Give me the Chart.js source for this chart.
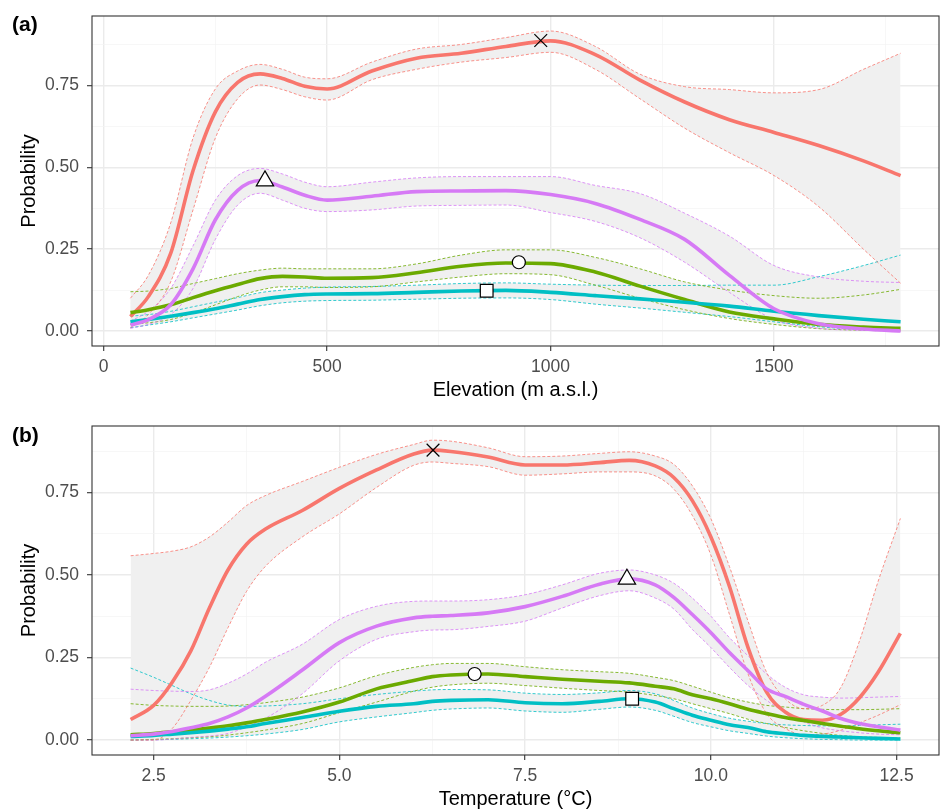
<!DOCTYPE html>
<html>
<head>
<meta charset="utf-8">
<script src="https://cdn.jsdelivr.net/npm/chart.js@4.4.1/dist/chart.umd.min.js"></script>
<style>
  body { margin: 0; background: #fff; }
  #wrap { position: relative; width: 940px; height: 811px; }
  canvas { position: absolute; left: 0; }
  #chartA { top: 0; }
  #chartB { top: 404px; }
  .tag { position: absolute; left: 12px; font: bold 21px "Liberation Sans", Arial, sans-serif; line-height: 24px; color: #000; }
</style>
</head>
<body>
<div id="wrap">
  <canvas id="chartA" width="940" height="402"></canvas>
  <canvas id="chartB" width="940" height="407"></canvas>
  <div class="tag" style="top:12px">(a)</div>
  <div class="tag" style="top:423px">(b)</div>
</div>
<script>
// ---- panel (a): elevation ----
const elevX = [60, 100, 150, 200, 250, 300, 350, 400, 450, 500, 600, 700, 800, 900, 1000, 1100, 1200, 1300, 1400, 1500, 1600, 1700, 1783];
const elevRedFit = [0.044, 0.105, 0.237, 0.49, 0.67, 0.76, 0.786, 0.772, 0.748, 0.740, 0.795, 0.834, 0.849, 0.870, 0.887, 0.845, 0.767, 0.700, 0.646, 0.607, 0.567, 0.520, 0.475];
const elevRedLo = [0.01, 0.05, 0.15, 0.37, 0.59, 0.71, 0.752, 0.738, 0.716, 0.706, 0.768, 0.80, 0.822, 0.836, 0.852, 0.80, 0.71, 0.62, 0.545, 0.475, 0.38, 0.25, 0.146];
const elevRedHi = [0.10, 0.17, 0.33, 0.59, 0.74, 0.795, 0.815, 0.80, 0.776, 0.771, 0.822, 0.862, 0.876, 0.897, 0.917, 0.87, 0.785, 0.747, 0.738, 0.728, 0.738, 0.80, 0.849];
const elevPinkFit = [0.018, 0.035, 0.08, 0.19, 0.34, 0.43, 0.46, 0.44, 0.415, 0.40, 0.412, 0.426, 0.428, 0.429, 0.417, 0.39, 0.341, 0.28, 0.17, 0.068, 0.022, 0.006, 0.0];
const elevPinkLo = [0.008, 0.02, 0.05, 0.13, 0.28, 0.385, 0.421, 0.40, 0.375, 0.365, 0.37, 0.382, 0.384, 0.385, 0.362, 0.335, 0.285, 0.21, 0.118, 0.035, 0.008, 0.002, 0.0];
const elevPinkHi = [0.03, 0.06, 0.13, 0.26, 0.40, 0.475, 0.497, 0.48, 0.455, 0.441, 0.455, 0.468, 0.472, 0.472, 0.472, 0.445, 0.42, 0.36, 0.29, 0.20, 0.165, 0.152, 0.148];
const elevGreenFit = [0.056, 0.065, 0.08, 0.102, 0.123, 0.142, 0.16, 0.167, 0.165, 0.161, 0.163, 0.178, 0.198, 0.208, 0.206, 0.18, 0.137, 0.096, 0.058, 0.037, 0.02, 0.012, 0.008];
const elevGreenLo = [0.02, 0.025, 0.035, 0.055, 0.08, 0.105, 0.125, 0.135, 0.135, 0.133, 0.135, 0.15, 0.165, 0.175, 0.172, 0.14, 0.10, 0.065, 0.038, 0.02, 0.007, 0.002, 0.0];
const elevGreenHi = [0.12, 0.122, 0.13, 0.145, 0.16, 0.175, 0.186, 0.192, 0.19, 0.19, 0.19, 0.205, 0.232, 0.248, 0.248, 0.225, 0.19, 0.15, 0.125, 0.108, 0.10, 0.11, 0.127];
const elevCyanFit = [0.028, 0.035, 0.045, 0.056, 0.068, 0.082, 0.096, 0.105, 0.111, 0.113, 0.114, 0.118, 0.122, 0.124, 0.118, 0.108, 0.098, 0.088, 0.076, 0.06, 0.047, 0.036, 0.028];
const elevCyanLo = [0.01, 0.018, 0.028, 0.04, 0.052, 0.064, 0.077, 0.086, 0.091, 0.093, 0.094, 0.097, 0.1, 0.101, 0.096, 0.082, 0.07, 0.057, 0.044, 0.028, 0.013, 0.004, 0.0];
const elevCyanHi = [0.045, 0.05, 0.06, 0.074, 0.088, 0.102, 0.117, 0.125, 0.131, 0.134, 0.136, 0.14, 0.145, 0.147, 0.143, 0.14, 0.139, 0.139, 0.14, 0.14, 0.166, 0.2, 0.232];
const elevMarkX = [978, 361, 929, 857];          // red, pink, green, cyan
const elevMarkY = [0.888, 0.459, 0.21, 0.123];
const elevTicks = [0, 250, 500, 750, 1000, 1250, 1500, 1750];
const elevTickLabels = ['0', '', '500', '', '1000', '', '1500', ''];

// ---- panel (b): temperature ----
const tempX = [2.19, 2.5, 2.75, 3.0, 3.25, 3.5, 3.75, 4.0, 4.5, 5.0, 5.5, 6.0, 6.25, 6.5, 7.0, 7.5, 8.0, 8.5, 8.9, 9.25, 9.5, 9.75, 10.0, 10.25, 10.5, 10.75, 11.0, 11.25, 11.5, 11.75, 12.0, 12.25, 12.55];
const tempRedFit = [0.062, 0.105, 0.175, 0.27, 0.40, 0.515, 0.593, 0.638, 0.695, 0.762, 0.818, 0.866, 0.878, 0.874, 0.857, 0.833, 0.833, 0.84, 0.847, 0.83, 0.795, 0.725, 0.615, 0.465, 0.28, 0.145, 0.085, 0.062, 0.06, 0.078, 0.128, 0.205, 0.323];
const tempRedLo = [0.0, 0.0, 0.035, 0.12, 0.22, 0.34, 0.45, 0.525, 0.615, 0.685, 0.765, 0.832, 0.842, 0.838, 0.828, 0.802, 0.806, 0.812, 0.812, 0.80, 0.76, 0.68, 0.56, 0.38, 0.2, 0.08, 0.035, 0.016, 0.018, 0.03, 0.052, 0.075, 0.107];
const tempRedHi = [0.558, 0.565, 0.572, 0.585, 0.615, 0.66, 0.71, 0.74, 0.783, 0.826, 0.865, 0.895, 0.908, 0.905, 0.885, 0.858, 0.86, 0.868, 0.873, 0.86, 0.835, 0.77, 0.67, 0.525, 0.36, 0.205, 0.125, 0.095, 0.105, 0.16, 0.30, 0.48, 0.671];
const tempPinkFit = [0.013, 0.018, 0.026, 0.037, 0.05, 0.07, 0.097, 0.132, 0.212, 0.295, 0.345, 0.37, 0.375, 0.377, 0.385, 0.404, 0.435, 0.472, 0.488, 0.47, 0.432, 0.38, 0.325, 0.265, 0.21, 0.155, 0.132, 0.108, 0.088, 0.065, 0.05, 0.04, 0.03];
const tempPinkLo = [0.0, 0.0, 0.003, 0.008, 0.012, 0.02, 0.04, 0.065, 0.14, 0.24, 0.305, 0.328, 0.333, 0.334, 0.344, 0.36, 0.4, 0.437, 0.452, 0.43, 0.397, 0.335, 0.28, 0.22, 0.165, 0.12, 0.085, 0.055, 0.037, 0.028, 0.022, 0.018, 0.016];
const tempPinkHi = [0.154, 0.15, 0.148, 0.147, 0.152, 0.172, 0.2, 0.235, 0.29, 0.365, 0.405, 0.42, 0.421, 0.421, 0.425, 0.44, 0.47, 0.505, 0.515, 0.5, 0.475, 0.43, 0.375, 0.31, 0.255, 0.2, 0.16, 0.137, 0.13, 0.127, 0.128, 0.13, 0.132];
const tempGreenFit = [0.016, 0.02, 0.025, 0.03, 0.036, 0.043, 0.052, 0.062, 0.085, 0.115, 0.155, 0.18, 0.192, 0.197, 0.2, 0.192, 0.184, 0.178, 0.173, 0.163, 0.155, 0.137, 0.125, 0.11, 0.093, 0.08, 0.068, 0.059, 0.05, 0.042, 0.034, 0.028, 0.022];
const tempGreenLo = [0.0, 0.002, 0.004, 0.007, 0.01, 0.015, 0.022, 0.03, 0.05, 0.083, 0.115, 0.148, 0.16, 0.167, 0.172, 0.165, 0.157, 0.15, 0.145, 0.135, 0.125, 0.11, 0.095, 0.08, 0.063, 0.05, 0.038, 0.028, 0.02, 0.014, 0.01, 0.008, 0.006];
const tempGreenHi = [0.11, 0.105, 0.103, 0.102, 0.102, 0.103, 0.107, 0.113, 0.13, 0.158, 0.195, 0.22, 0.228, 0.232, 0.232, 0.222, 0.213, 0.207, 0.202, 0.19, 0.18, 0.163, 0.145, 0.128, 0.115, 0.105, 0.1, 0.095, 0.093, 0.092, 0.092, 0.093, 0.095];
const tempCyanFit = [0.011, 0.014, 0.018, 0.022, 0.027, 0.033, 0.04, 0.05, 0.068, 0.087, 0.102, 0.11, 0.117, 0.12, 0.122, 0.113, 0.11, 0.117, 0.125, 0.115, 0.095, 0.075, 0.06, 0.046, 0.038, 0.025, 0.019, 0.014, 0.011, 0.009, 0.007, 0.005, 0.003];
const tempCyanLo = [0.0, 0.001, 0.002, 0.004, 0.006, 0.009, 0.013, 0.018, 0.032, 0.055, 0.07, 0.083, 0.09, 0.094, 0.097, 0.088, 0.084, 0.093, 0.1, 0.09, 0.072, 0.053, 0.04, 0.028, 0.02, 0.012, 0.007, 0.004, 0.002, 0.001, 0.0, 0.0, 0.0];
const tempCyanHi = [0.218, 0.19, 0.165, 0.14, 0.12, 0.106, 0.102, 0.103, 0.11, 0.125, 0.138, 0.148, 0.152, 0.153, 0.152, 0.142, 0.138, 0.143, 0.15, 0.14, 0.12, 0.097, 0.08, 0.066, 0.057, 0.05, 0.046, 0.044, 0.043, 0.043, 0.044, 0.046, 0.048];
const tempMarkX = [6.26, 8.87, 6.82, 8.94];
const tempMarkY = [0.878, 0.487, 0.2, 0.125];
const tempTicks = [2.5, 3.75, 5.0, 6.25, 7.5, 8.75, 10.0, 11.25, 12.5];
const tempTickLabels = ['2.5', '', '5.0', '', '7.5', '', '10.0', '', '12.5'];

const probTicks = [0, 0.125, 0.25, 0.375, 0.5, 0.625, 0.75, 0.875];
const probTickLabels = ['0.00', '', '0.25', '', '0.50', '', '0.75', ''];

const colRed = '#F8766D', colGreen = '#6BAA00', colCyan = '#00BFC4', colPink = '#D67AF5';
const markStyles = ['crossRot', 'triangle', 'circle', 'rect'];
const markSizes = [9, 10, 6.5, 9];

Chart.defaults.font.family = '"Liberation Sans", Arial, sans-serif';

function pts(xs, ys) {
    return xs.map((x, i) => ({ x: x, y: ys[i] }));
}

function band(xs, lo, hi, color) {
    return [
        { data: pts(xs, lo), borderColor: color, borderWidth: 0.8, borderDash: [3, 2], fill: false, order: 6 },
        { data: pts(xs, hi), borderColor: color, borderWidth: 0.8, borderDash: [3, 2], fill: '-1', backgroundColor: '#F0F0F0', order: 6 }
    ];
}

function fitLine(xs, ys, color, order) {
    return { data: pts(xs, ys), borderColor: color, borderWidth: 3.6, fill: false, order: order };
}

function markers(mx, my) {
    return mx.map((x, i) => ({
        data: [{ x: x, y: my[i] }],
        showLine: false,
        pointStyle: markStyles[i],
        pointRadius: markSizes[i],
        pointBorderColor: '#000',
        pointBorderWidth: 1.2,
        pointBackgroundColor: '#fff',
        order: 0
    }));
}

// ggplot-like panel border
const panelBorder = {
    id: 'panelBorder',
    afterDatasetsDraw(chart) {
        const a = chart.chartArea, c = chart.ctx;
        c.save();
        c.strokeStyle = '#333333';
        c.lineWidth = 1.1;
        c.strokeRect(a.left, a.top, a.right - a.left, a.bottom - a.top);
        c.restore();
    }
};

function axis(ticks, labels, min, max, title, isY) {
    return {
        type: 'linear',
        min: min,
        max: max,
        afterBuildTicks: s => { s.ticks = ticks.map(v => ({ value: v })); },
        afterFit: s => {
            if (isY) s.width = 92; else s.height = 56;
            s.paddingLeft = 0; s.paddingRight = 0; s.paddingTop = 0; s.paddingBottom = 0;
        },
        ticks: {
            autoSkip: false,
            maxRotation: 0,
            padding: isY ? 8 : 6,
            color: '#4D4D4D',
            font: { size: 17.5 },
            callback: (v, i) => labels[i]
        },
        grid: {
            color: c => labels[c.index] ? '#EBEBEB' : '#F3F3F3',
            lineWidth: c => labels[c.index] ? 1.4 : 0.7,
            tickColor: c => labels[c.index] ? '#333333' : 'rgba(0,0,0,0)',
            tickLength: 5,
            tickWidth: 1.1
        },
        border: { display: false },
        title: {
            display: true,
            text: title,
            color: '#000',
            font: { size: 20 },
            padding: isY ? { top: 17, bottom: 0 } : { top: 0, bottom: 0 }
        }
    };
}

function makePanel(id, cfg) {
    const datasets = [].concat(
        band(cfg.x, cfg.redLo, cfg.redHi, colRed),
        band(cfg.x, cfg.pinkLo, cfg.pinkHi, colPink),
        band(cfg.x, cfg.greenLo, cfg.greenHi, colGreen),
        band(cfg.x, cfg.cyanLo, cfg.cyanHi, colCyan),
        [fitLine(cfg.x, cfg.redFit, colRed, 5),
         fitLine(cfg.x, cfg.greenFit, colGreen, 4),
         fitLine(cfg.x, cfg.cyanFit, colCyan, 3),
         fitLine(cfg.x, cfg.pinkFit, colPink, 2)],
        markers(cfg.markX, cfg.markY)
    );
    new Chart(document.getElementById(id), {
        type: 'line',
        data: { datasets: datasets },
        options: {
            responsive: false,
            animation: false,
            devicePixelRatio: 1,
            layout: { autoPadding: false, padding: { left: 0, right: 1, top: cfg.padTop, bottom: 0 } },
            elements: {
                point: { radius: 0 },
                line: { cubicInterpolationMode: 'monotone' }
            },
            plugins: {
                legend: { display: false },
                tooltip: { enabled: false },
                filler: { drawTime: 'beforeDatasetsDraw' }
            },
            scales: {
                x: axis(cfg.ticks, cfg.tickLabels, cfg.xMin, cfg.xMax, cfg.xTitle, false),
                y: axis(probTicks, probTickLabels, cfg.yMin, cfg.yMax, 'Probability', true)
            }
        },
        plugins: [panelBorder]
    });
}

makePanel('chartA', {
    x: elevX,
    redFit: elevRedFit, redLo: elevRedLo, redHi: elevRedHi,
    pinkFit: elevPinkFit, pinkLo: elevPinkLo, pinkHi: elevPinkHi,
    greenFit: elevGreenFit, greenLo: elevGreenLo, greenHi: elevGreenHi,
    cyanFit: elevCyanFit, cyanLo: elevCyanLo, cyanHi: elevCyanHi,
    markX: elevMarkX, markY: elevMarkY,
    ticks: elevTicks, tickLabels: elevTickLabels,
    xMin: -26, xMax: 1869, yMin: -0.046, yMax: 0.963,
    xTitle: 'Elevation (m a.s.l.)', padTop: 16
});

makePanel('chartB', {
    x: tempX,
    redFit: tempRedFit, redLo: tempRedLo, redHi: tempRedHi,
    pinkFit: tempPinkFit, pinkLo: tempPinkLo, pinkHi: tempPinkHi,
    greenFit: tempGreenFit, greenLo: tempGreenLo, greenHi: tempGreenHi,
    cyanFit: tempCyanFit, cyanLo: tempCyanLo, cyanHi: tempCyanHi,
    markX: tempMarkX, markY: tempMarkY,
    ticks: tempTicks, tickLabels: tempTickLabels,
    xMin: 1.67, xMax: 13.07, yMin: -0.0453, yMax: 0.951,
    xTitle: 'Temperature (°C)', padTop: 22
});
</script>
</body>
</html>
